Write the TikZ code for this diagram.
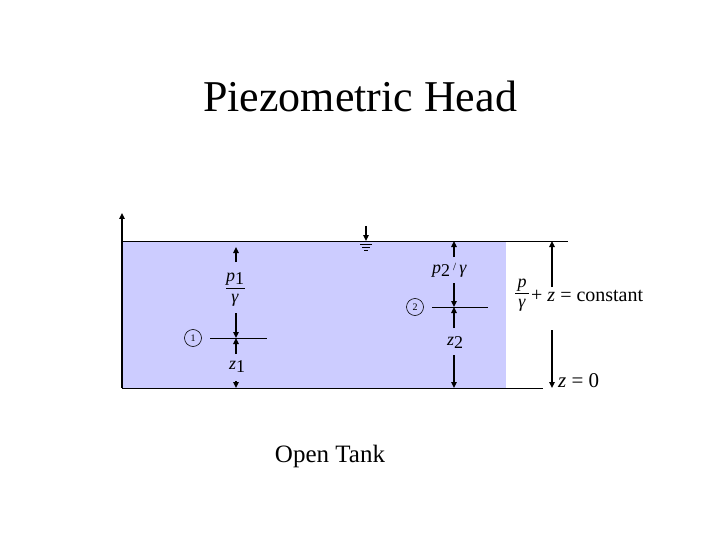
\documentclass[tikz,border=0pt]{standalone}
\usepackage{fontspec}
\setmainfont{Liberation Serif}
\usetikzlibrary{arrows.meta}
\definecolor{water}{RGB}{204,204,255}
\newcommand{\subdn}[1]{\raisebox{-3pt}{#1}}
\begin{document}
\begin{tikzpicture}[x=1pt,y=-1pt,
  arr/.style={-{Triangle[length=6pt,width=5.5pt]}, line width=1.6pt},
  wall/.style={line width=1.3pt},
  thin/.style={line width=0.8pt},
  lab/.style={inner sep=0pt, anchor=base, font=\fontsize{18}{20}\selectfont},
  num/.style={draw, circle, line width=0.6pt, minimum size=17pt, inner sep=0pt, font=\fontsize{10}{12}\selectfont}]
\useasboundingbox (0,0) rectangle (720,540);
% water
\fill[water] (122,241) rectangle (506,388);
% coordinates
\coordinate (wtop) at (122,213);
\coordinate (wbot) at (122,388);
\coordinate (btmR) at (543,388);
\coordinate (surfR) at (568,241);
\coordinate (surfL) at (122,241);
% walls and lines
\draw[wall,-{Triangle[length=6pt,width=5.5pt]}] (wbot) -- (wtop);
\draw[thin] (surfL) -- (surfR);
\draw[thin] (wbot) -- (btmR);
% free surface symbol
\coordinate (fs0) at (366,226);
\coordinate (fs1) at (366,241);
\draw[arr] (fs0) -- (fs1);
\draw[line width=0.6pt] (360,244.5) -- (372,244.5) (362,247.5) -- (370,247.5) (364,250.5) -- (368,250.5);
% title
\node[inner sep=0pt, font=\fontsize{44}{52}\selectfont] (title) at (360,96) {Piezometric Head};
\node[inner sep=0pt, font=\fontsize{25}{30}\selectfont] (cap) at (330,456) {Open Tank};
% point 1
\node[num] (n1) at (193,338) {1};
\coordinate (l1a) at (210,338);
\coordinate (l1b) at (267,338);
\draw[thin] (l1a) -- (l1b);
\node[lab] (p1) at (235,281) {\textit{p}\subdn{1}};
\coordinate (f1a) at (226,288); \coordinate (f1b) at (245,288);
\draw[line width=0.8pt] (f1a) -- (f1b);
\node[lab] (g1) at (235,302) {\textit{γ}};
\coordinate (a1s) at (236,262); \coordinate (a1t) at (236,247);
\draw[arr] (a1s) -- (a1t);
\coordinate (b1s) at (236,313); \coordinate (b1t) at (236,338);
\draw[arr] (b1s) -- (b1t);
\coordinate (c1s) at (236,354); \coordinate (c1t) at (236,338);
\draw[arr] (c1s) -- (c1t);
\node[lab] (z1) at (237,369) {\textit{z}\subdn{1}};
\coordinate (d1s) at (236,381); \coordinate (d1t) at (236,388);
\draw[arr] (d1s) -- (d1t);
% point 2
\node[num] (n2) at (415,307) {2};
\coordinate (l2a) at (432,307);
\coordinate (l2b) at (488,307);
\draw[thin] (l2a) -- (l2b);
\node[lab, anchor=base west] (p2) at (432,273) {\textit{p}\subdn{2}\,\raisebox{3pt}{\fontsize{11}{12}\selectfont /}\,\textit{γ}};
\coordinate (a2s) at (454,257); \coordinate (a2t) at (454,241);
\draw[arr] (a2s) -- (a2t);
\coordinate (b2s) at (454,283); \coordinate (b2t) at (454,307);
\draw[arr] (b2s) -- (b2t);
\coordinate (c2s) at (454,328); \coordinate (c2t) at (454,307);
\draw[arr] (c2s) -- (c2t);
\node[lab] (z2) at (455,345) {\textit{z}\subdn{2}};
\coordinate (d2s) at (454,355); \coordinate (d2t) at (454,388);
\draw[arr] (d2s) -- (d2t);
% right dimension
\coordinate (r1s) at (552,287); \coordinate (r1t) at (552,241);
\draw[arr] (r1s) -- (r1t);
\coordinate (r2s) at (552,330); \coordinate (r2t) at (552,388);
\draw[arr] (r2s) -- (r2t);
\node[lab] (pp) at (522,287) {\textit{p}};
\coordinate (f3a) at (515,293.5); \coordinate (f3b) at (529,293.5);
\draw[line width=0.8pt] (f3a) -- (f3b);
\node[lab] (g3) at (522,307) {\textit{γ}};
\node[lab, anchor=base west, font=\fontsize{20}{24}\selectfont] (eq) at (531,301) {+ \textit{z} = constant};
\node[inner sep=0pt, anchor=base west, font=\fontsize{21}{25}\selectfont] (z0) at (558,387) {\textit{z} = 0};
\end{tikzpicture}
\end{document}
